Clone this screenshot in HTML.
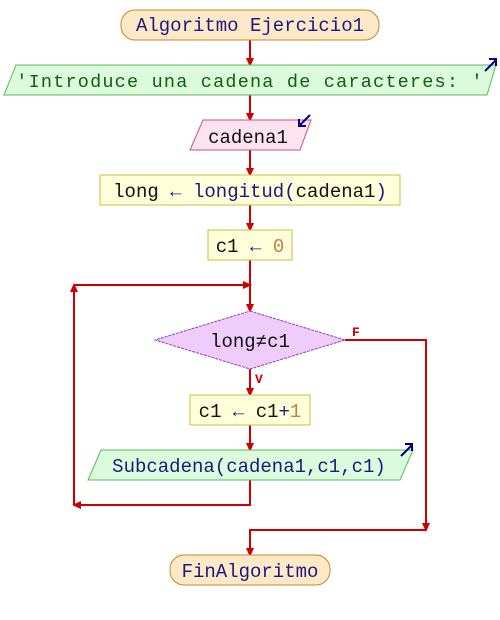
<!DOCTYPE html>
<html><head><style>body{margin:0;background:#fff}svg{display:block}</style></head><body>
<svg width="500" height="620" viewBox="0 0 500 620" xmlns="http://www.w3.org/2000/svg" font-family="Liberation Mono, monospace" font-size="19">
<defs>
<marker id="a" markerWidth="10" markerHeight="10" refX="5" refY="5" orient="auto" markerUnits="userSpaceOnUse"><path d="M0,1 L9,5 L0,9 z" fill="#cc0000"/></marker>
</defs>
<g stroke="#cc0000" stroke-width="2" fill="none">
<line x1="250" y1="40" x2="250" y2="63" marker-end="url(#a)"/>
<line x1="250" y1="95" x2="250" y2="118" marker-end="url(#a)"/>
<line x1="250" y1="150" x2="250" y2="173" marker-end="url(#a)"/>
<line x1="250" y1="205" x2="250" y2="228" marker-end="url(#a)"/>
<line x1="250" y1="260" x2="250" y2="309" marker-end="url(#a)"/>
<line x1="74" y1="285" x2="248" y2="285" marker-end="url(#a)"/>
<polyline points="250,480 250,505 76,505" marker-end="url(#a)"/>
<line x1="74" y1="505" x2="74" y2="287" marker-end="url(#a)"/>
<line x1="250" y1="369" x2="250" y2="393" marker-end="url(#a)"/>
<line x1="250" y1="425" x2="250" y2="448" marker-end="url(#a)"/>
<polyline points="345,340 426,340 426,528" marker-end="url(#a)"/>
<polyline points="426,530 250,530 250,553" marker-end="url(#a)"/>
</g>
<rect x="121" y="10" width="258" height="30" rx="14" fill="#fde8c8" stroke="#c8862a"/>
<text x="250" y="31" text-anchor="middle" fill="#1a1a80">Algoritmo Ejercicio1</text>
<polygon points="16,65 496,65 487,95 4,95" fill="#dcfadc" stroke="#5cb85c"/>
<text x="250" y="87" text-anchor="middle" fill="#106010" font-size="18.5" letter-spacing="1.2">'Introduce una cadena de caracteres: '</text>
<g stroke="#000080" stroke-width="2" fill="none"><path d="M485,71 L496,60 M489,59 L496,59 L496,66"/></g>
<polygon points="203,120 311,120 300,150 190,150" fill="#fde2ef" stroke="#c8508a"/>
<text x="248" y="143" text-anchor="middle" fill="#111">cadena1</text>
<g stroke="#000080" stroke-width="2" fill="none"><path d="M310,115 L299,126 M299,119 L299,126 L306,126"/></g>
<rect x="100" y="175" width="300" height="30" fill="#fefed8" stroke="#c8c040"/>
<text x="250" y="197" text-anchor="middle" fill="#111">long <tspan fill="#1a1a80">←</tspan> <tspan fill="#1a1a80">longitud(</tspan>cadena1<tspan fill="#1a1a80">)</tspan></text>
<rect x="208" y="230" width="84" height="30" fill="#fefed8" stroke="#c8c040"/>
<text x="250" y="252" text-anchor="middle" fill="#111">c1 <tspan fill="#1a1a80">←</tspan> <tspan fill="#c08050">0</tspan></text>
<polygon points="250,311 345,340 250,369 155,340" fill="#f0ccfa" stroke="#9040c0" stroke-dasharray="3,1"/>
<text x="250" y="347" text-anchor="middle" fill="#111">long≠c1</text>
<text x="352" y="336" fill="#cc0000" font-size="13" font-weight="bold">F</text>
<text x="255" y="383" fill="#cc0000" font-size="13" font-weight="bold">V</text>
<rect x="190" y="395" width="120" height="30" fill="#fefed8" stroke="#c8c040"/>
<text x="250" y="417" text-anchor="middle" fill="#111">c1 <tspan fill="#1a1a80">←</tspan> c1<tspan fill="#1a1a80">+</tspan><tspan fill="#c08050">1</tspan></text>
<polygon points="101,450 413,450 400,480 88,480" fill="#dcfadc" stroke="#5cb85c"/>
<text x="249" y="472" text-anchor="middle" fill="#1a1a80">Subcadena(cadena1,c1,c1)</text>
<g stroke="#000080" stroke-width="2" fill="none"><path d="M401,456 L412,445 M405,444 L412,444 L412,451"/></g>
<rect x="170" y="555" width="160" height="30" rx="14" fill="#fde8c8" stroke="#c8862a"/>
<text x="250" y="577" text-anchor="middle" fill="#1a1a80">FinAlgoritmo</text>
</svg>
</body></html>
